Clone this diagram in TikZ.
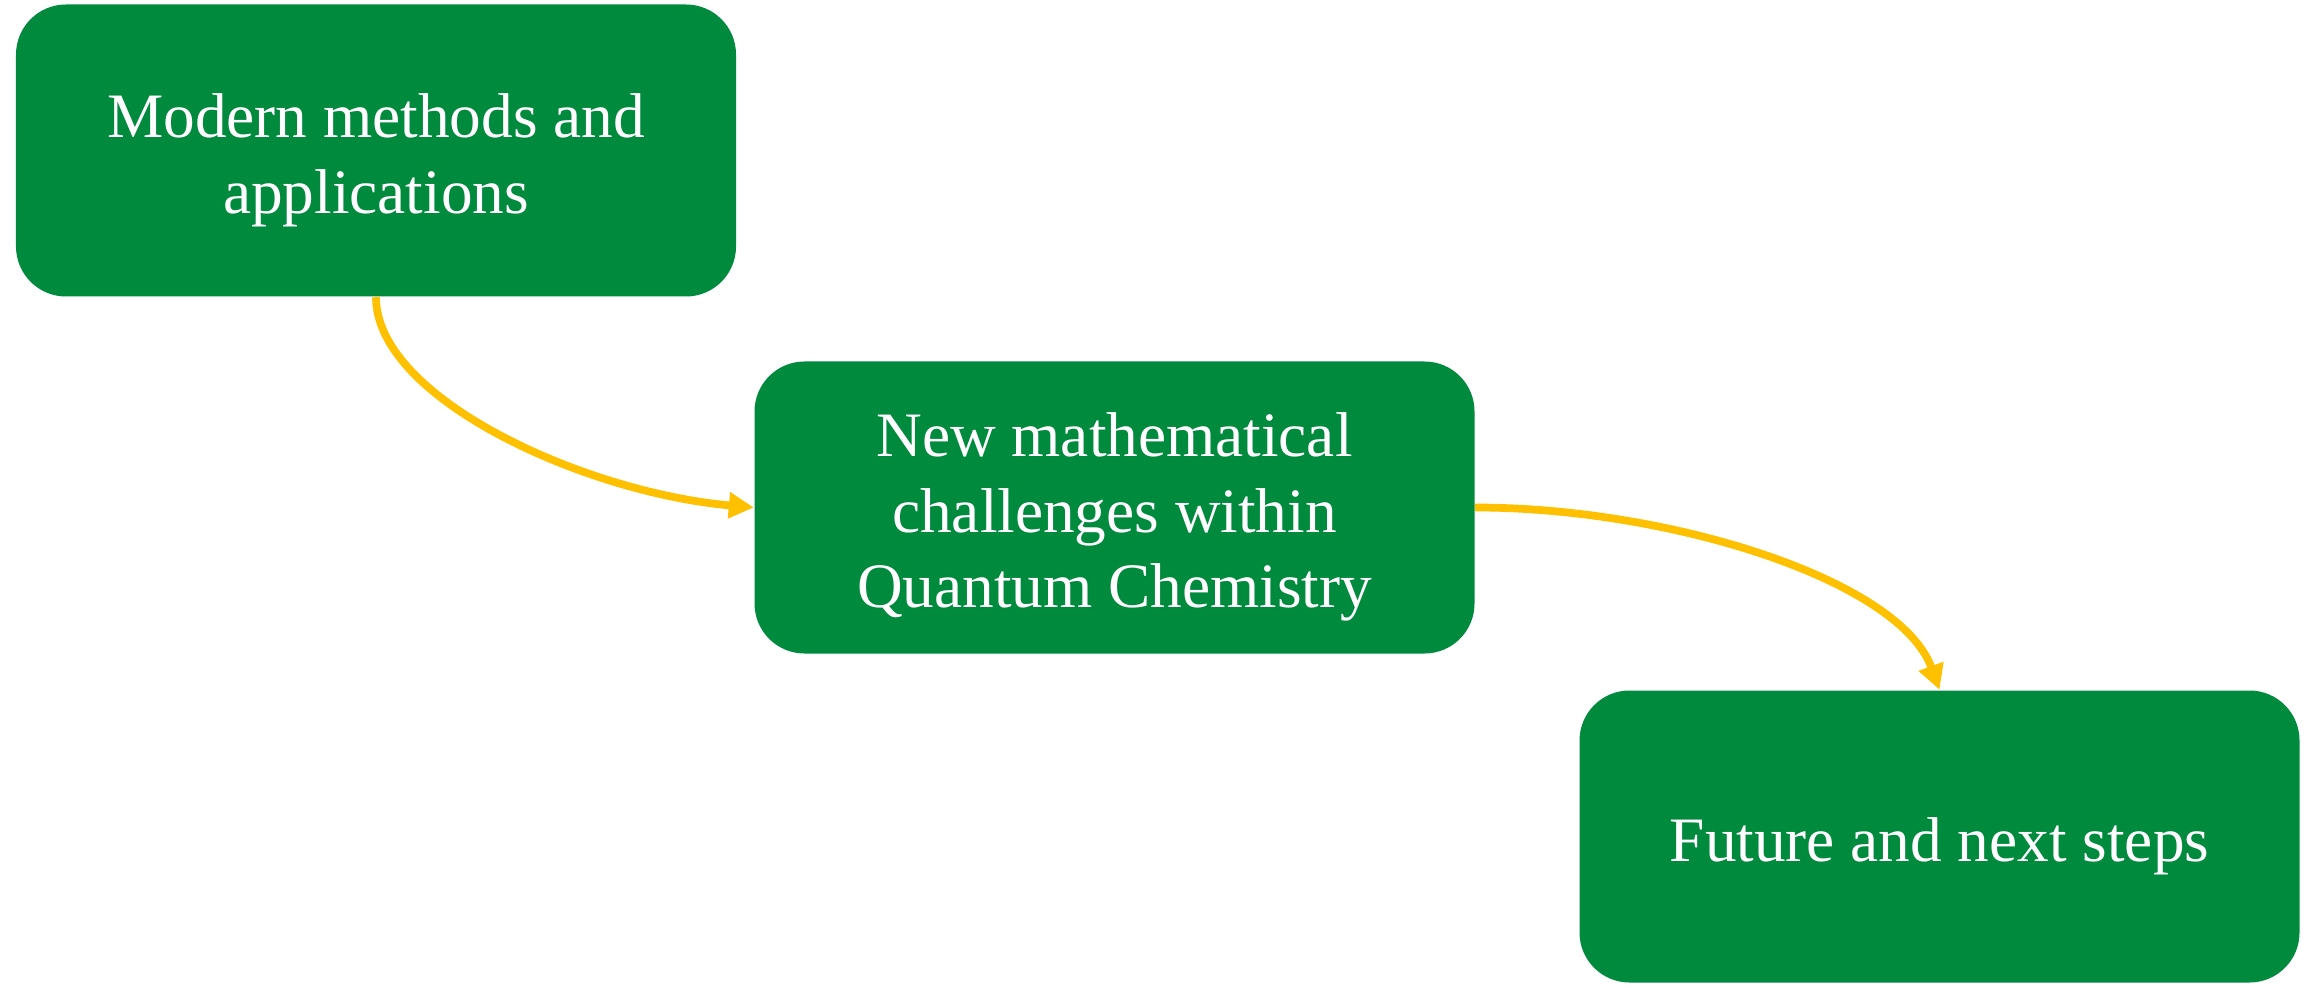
\documentclass[tikz,border=0pt]{standalone}
\usepackage{fontspec}
\setmainfont{Liberation Serif}
\usepackage{xcolor}
\usepackage{tikz}
\usetikzlibrary{arrows.meta}
\definecolor{BoxGreen}{HTML}{008A3E}
\definecolor{LinkYellow}{HTML}{FFC000}
\newcommand{\topstrut}{\rule{0pt}{0.63cm}}

\tikzset{
  stagebox/.style={rounded corners=0.5cm, fill=BoxGreen, text=white, minimum width=7.2cm, minimum height=2.92cm, align=center, inner sep=0pt, font=\fontsize{18}{21.5}\selectfont},
  stagelink/.style={-{Triangle[length=0.25cm,width=0.25cm]}, LinkYellow, line width=2.2pt}
}

\begin{document}
\begin{tikzpicture}
\useasboundingbox (0,0) rectangle (23.16,9.87);
\node[stagebox] (modern) at (3.76,8.365) {\topstrut Modern methods and\\applications};
\node[stagebox] (challenges) at (11.145,4.795) {\topstrut New mathematical\\challenges within\\Quantum Chemistry};
\node[stagebox] (future) at (19.395,1.505) {\topstrut Future and next steps};
\draw[stagelink] (modern.south) to[out=-90, in=175, out looseness=0.6, in looseness=1] (challenges.west);
\draw[stagelink] (challenges.east) to[out=0, in=110, out looseness=1, in looseness=0.6] (future.north);
\end{tikzpicture}
\end{document}
